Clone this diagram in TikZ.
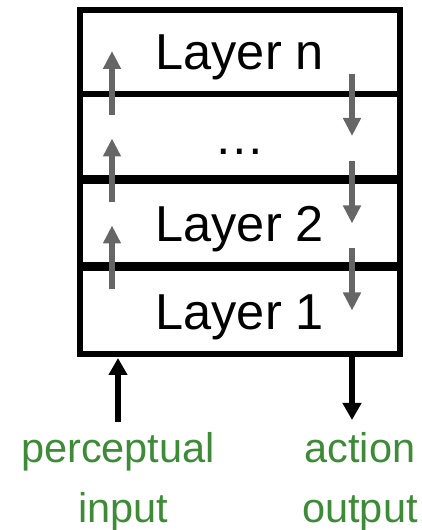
\documentclass[tikz,border=0pt]{standalone}
\usepackage{fontspec}
\setmainfont{Liberation Sans}
\usetikzlibrary{arrows.meta,calc}
\definecolor{flowgray}{HTML}{666666}
\definecolor{iogreen}{HTML}{3D8B37}

\begin{document}
\begin{tikzpicture}[x=1pt,y=1pt,
	layer/.style={draw, line width=6pt, minimum width=319.5pt, inner sep=0pt, outer sep=0pt,
		font=\fontsize{50.5}{60}\selectfont, text height=36pt, text depth=0pt},
	flow/.style={flowgray, line width=6pt, -{Triangle[width=17pt,length=18pt]}},
	io/.style={line width=6pt, -{Triangle[width=18pt,length=17pt]}},
	iotext/.style={iogreen, align=center, inner sep=0pt, outer sep=0pt,
		font=\fontsize{41.5}{60}\selectfont}]
	\useasboundingbox (0,0) rectangle (421,530);
	% the stack of layers
	\node[layer, minimum height=84pt]   (ln) at (239.75,478)    {Layer n};
	\node[layer, minimum height=84.5pt] (ld) at (239.75,393.75) {…};
	\node[layer, minimum height=84pt]   (l2) at (239.75,306.5)  {Layer 2};
	\node[layer, minimum height=85.5pt] (l1) at (239.75,218.75) {Layer 1};
	% upward and downward flow between layers
	\foreach \lo in {ld, l2, l1}{
		\draw[flow] ($(\lo.north west)+(32,-21)$) -- ($(\lo.north west)+(32,43)$);
		\draw[flow] ($(\lo.north east)+(-47.5,20)$) -- ($(\lo.north east)+(-47.5,-42)$);
	}
	% input and output
	\node[iotext, anchor=north] (inp) at (118,98) {perceptual\\\hspace*{11pt}input};
	\node[iotext, anchor=north] (outp) at (360,98) {action\\output};
	\draw[io] ($(inp.north)+(0,10)$) -- ($(l1.south west)+(38,-4)$);
	\draw[io] ($(l1.south east)+(-47.5,0)$) -- ($(outp.north)+(-8,12)$);
\end{tikzpicture}
\end{document}
